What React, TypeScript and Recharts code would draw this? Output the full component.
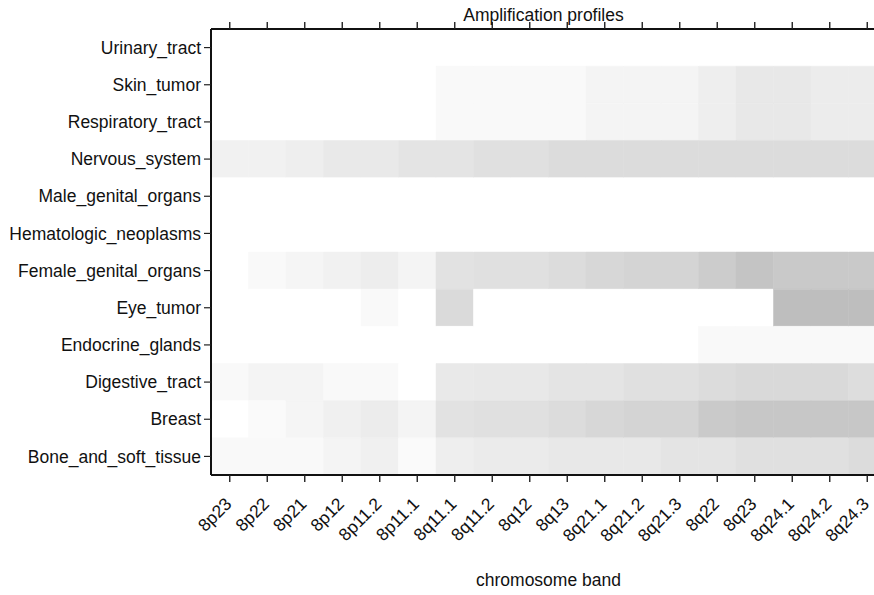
import React from "react";
import { BarChart, Bar, Cell, XAxis, YAxis, Label } from "recharts";

// chromosome 8 bands, left to right
const BANDS = [
  "8p23", "8p22", "8p21", "8p12", "8p11.2", "8p11.1", "8q11.1", "8q11.2", "8q12",
  "8q13", "8q21.1", "8q21.2", "8q21.3", "8q22", "8q23", "8q24.1", "8q24.2", "8q24.3",
];

// tissue groups, top to bottom
const TISSUES = [
  "Urinary_tract", "Skin_tumor", "Respiratory_tract", "Nervous_system",
  "Male_genital_organs", "Hematologic_neoplasms", "Female_genital_organs", "Eye_tumor",
  "Endocrine_glands", "Digestive_tract", "Breast", "Bone_and_soft_tissue",
];

// amplification level per band (0 = none), one array per tissue
const urinaryTract = [0, 0, 0, 0, 0, 0, 0, 0, 0, 0, 0, 0, 0, 0, 0, 0, 0, 0];
const skinTumor = [0, 0, 0, 0, 0, 0, 6, 6, 6, 6, 11, 11, 11, 17, 23, 23, 19, 19];
const respiratoryTract = [0, 0, 0, 0, 0, 0, 6, 6, 6, 6, 11, 11, 11, 17, 23, 23, 19, 19];
const nervousSystem = [14, 14, 17, 22, 22, 27, 27, 31, 31, 35, 35, 35, 35, 35, 35, 35, 35, 35];
const maleGenitalOrgans = [0, 0, 0, 0, 0, 0, 0, 0, 0, 0, 0, 0, 0, 0, 0, 0, 0, 0];
const hematologicNeoplasms = [0, 0, 0, 0, 0, 0, 0, 0, 0, 0, 0, 0, 0, 0, 0, 0, 0, 0];
const femaleGenitalOrgans = [0, 6, 10, 14, 18, 11, 29, 31, 31, 35, 40, 43, 43, 51, 59, 54, 54, 54];
const eyeTumor = [0, 0, 0, 0, 6, 0, 37, 0, 0, 0, 0, 0, 0, 0, 0, 65, 65, 65];
const endocrineGlands = [0, 0, 0, 0, 0, 0, 0, 0, 0, 0, 0, 0, 0, 6, 6, 6, 6, 6];
const digestiveTract = [6, 11, 11, 6, 6, 0, 22, 23, 23, 27, 27, 31, 31, 35, 38, 38, 38, 34];
const breast = [0, 5, 10, 15, 19, 11, 29, 31, 31, 35, 40, 43, 43, 53, 56, 56, 56, 56];
const boneAndSoftTissue = [6, 6, 6, 11, 15, 5, 17, 20, 20, 23, 23, 23, 27, 27, 31, 31, 31, 35];

const LEVELS = [
  urinaryTract, skinTumor, respiratoryTract, nervousSystem, maleGenitalOrgans,
  hematologicNeoplasms, femaleGenitalOrgans, eyeTumor, endocrineGlands,
  digestiveTract, breast, boneAndSoftTissue,
];

const FONT = "'Liberation Sans', Arial, Helvetica, sans-serif";
const FONT_SIZE = 17.5;
const INK = "#111";
const TICK_INK = "#222";
const TICK_LEN = 7;

// every band is one unit wide, stacked along the row
const rows = TISSUES.map((name) => {
  const row: Record<string, string | number> = { name };
  BANDS.forEach((_, j) => (row[`b${j}`] = 1));
  return row;
});

const grey = (v: number) => {
  const g = Math.max(0, Math.min(255, 255 - v));
  return `rgb(${g},${g},${g})`;
};

const bandTicks = BANDS.map((_, j) => j + 0.5);

// bottom axis: tick mark plus a 45° label (tickMargin is 0, so y sits on the axis)
const BandTick = (props: any) => {
  const { x, y, payload } = props;
  const label = BANDS[Math.floor(payload.value)];
  const ax = x + 3;
  const ay = y + 30;
  return (
    <g>
      <rect x={x - 0.7} y={y} width={1.4} height={TICK_LEN} fill={TICK_INK} />
      <text
        x={ax}
        y={ay}
        transform={`rotate(-45, ${ax}, ${ay})`}
        textAnchor="end"
        fontSize={FONT_SIZE}
        fontFamily={FONT}
        fill={INK}
      >
        {label}
      </text>
    </g>
  );
};

// top axis: tick mark only
const TopTick = (props: any) => {
  const { x, y } = props;
  return <rect x={x - 0.7} y={y - TICK_LEN} width={1.4} height={TICK_LEN} fill={TICK_INK} />;
};

export default function App() {
  return (
    <div
      style={{
        position: "absolute",
        left: 0,
        top: 0,
        width: 874,
        height: 595,
        overflow: "hidden",
        background: "#fff",
      }}
    >
      <BarChart
        width={910}
        height={595}
        data={rows}
        layout="vertical"
        barCategoryGap={0}
        margin={{ top: 0, right: 24, bottom: 0, left: 0 }}
      >
        <XAxis
          xAxisId="top"
          orientation="top"
          type="number"
          domain={[0, 18]}
          allowDataOverflow
          ticks={bandTicks}
          interval={0}
          height={29}
          tickSize={0}
          tickMargin={0}
          tickLine={false}
          tick={TopTick}
          axisLine={{ stroke: INK, strokeWidth: 2 }}
        >
          <Label
            value="Amplification profiles"
            position="insideTop"
            offset={9}
            dx={-5}
            style={{ fontSize: FONT_SIZE, fontFamily: FONT, fill: INK }}
          />
        </XAxis>
        <XAxis
          xAxisId="bottom"
          orientation="bottom"
          type="number"
          domain={[0, 18]}
          ticks={bandTicks}
          interval={0}
          height={120}
          tickSize={0}
          tickMargin={0}
          tickLine={false}
          tick={BandTick}
          axisLine={{ stroke: INK, strokeWidth: 2 }}
        >
          <Label
            value="chromosome band"
            position="insideBottom"
            offset={9}
            style={{ fontSize: FONT_SIZE, fontFamily: FONT, fill: INK }}
          />
        </XAxis>
        <YAxis
          type="category"
          dataKey="name"
          width={211}
          interval={0}
          tickSize={TICK_LEN}
          tickMargin={3}
          tick={{ fontSize: FONT_SIZE, fontFamily: FONT, fill: INK }}
          axisLine={{ stroke: INK, strokeWidth: 2 }}
          tickLine={{ stroke: TICK_INK, strokeWidth: 1.2 }}
        />
        {BANDS.map((band, j) => (
          <Bar
            key={band}
            dataKey={`b${j}`}
            stackId="bands"
            xAxisId="bottom"
            isAnimationActive={false}
          >
            {LEVELS.map((levels, i) => (
              <Cell
                key={TISSUES[i]}
                fill={grey(levels[j])}
                stroke={grey(levels[j])}
                strokeWidth={0.5}
              />
            ))}
          </Bar>
        ))}
      </BarChart>
    </div>
  );
}
